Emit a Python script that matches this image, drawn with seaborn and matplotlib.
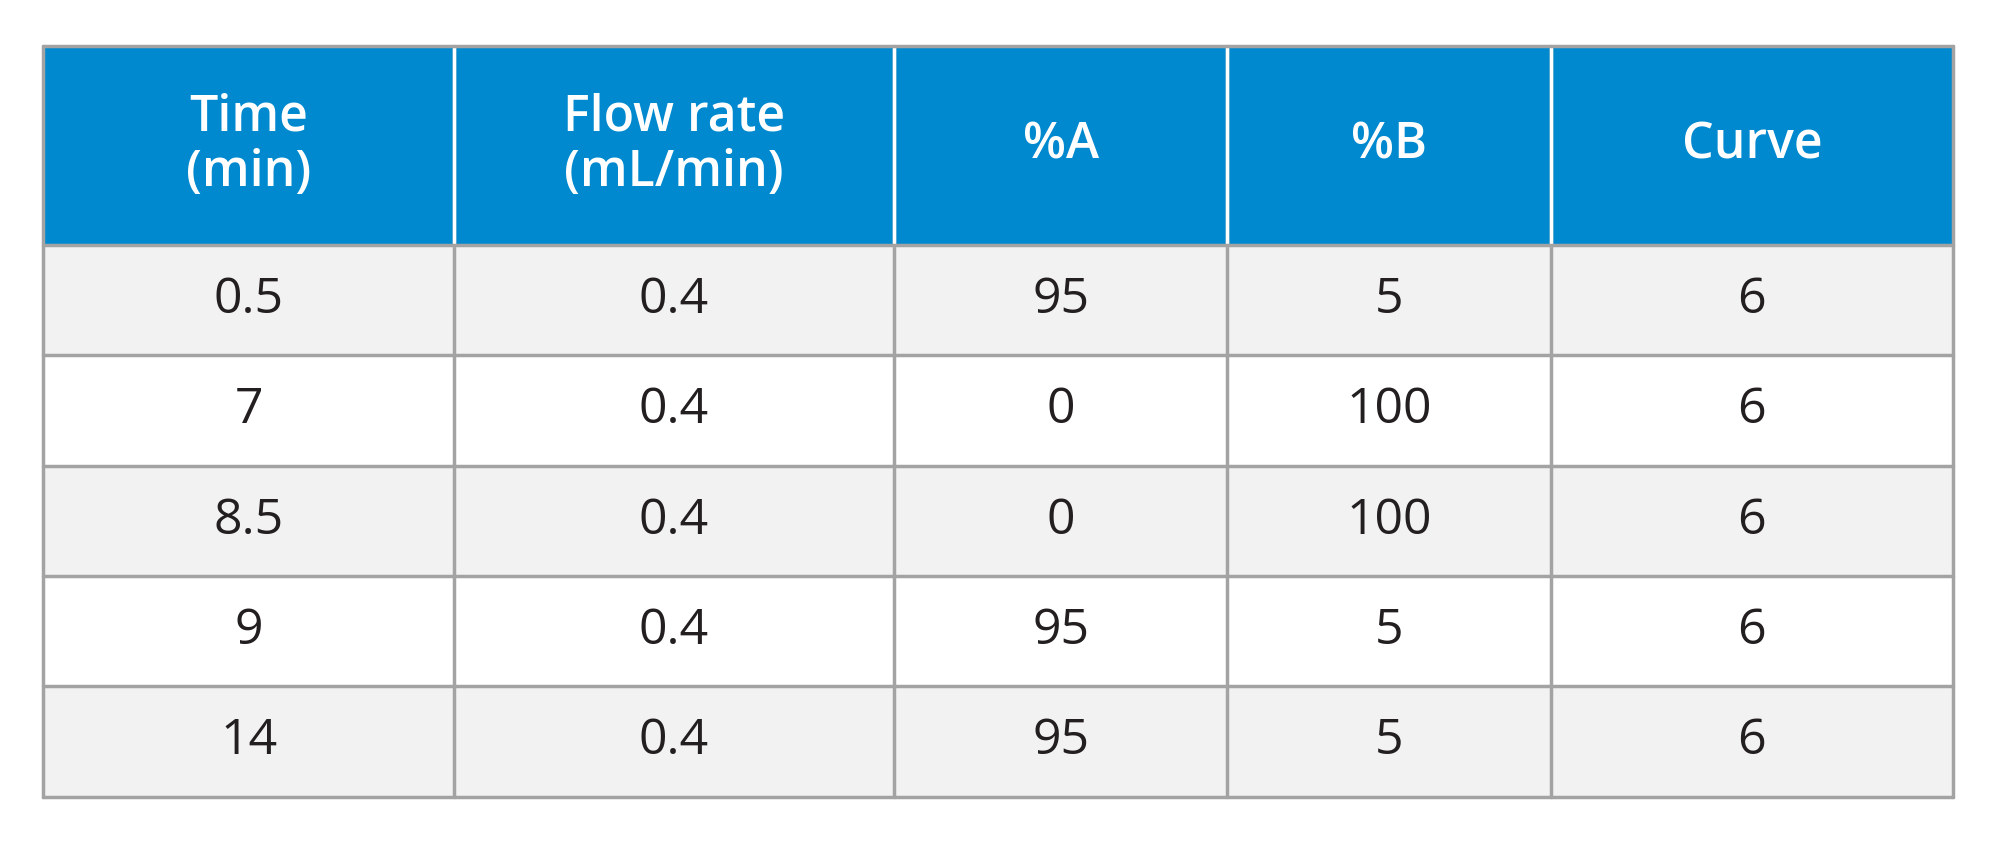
import matplotlib
matplotlib.use("Agg")
import matplotlib.pyplot as plt
from matplotlib.patches import Rectangle
import seaborn as sns

headers = ["Time\n(min)", "Flow rate\n(mL/min)", "%A", "%B", "Curve"]
time_min = ["0.5", "7", "8.5", "9", "14"]
flow_rate = ["0.4", "0.4", "0.4", "0.4", "0.4"]
pct_a = ["95", "0", "0", "95", "95"]
pct_b = ["5", "100", "100", "5", "5"]
curve = ["6", "6", "6", "6", "6"]

sns.set_theme(style="white")
fig = plt.figure(figsize=(20, 8.43), dpi=100)
ax = fig.add_axes([0, 0, 1, 1])
ax.set_xlim(0, 1568)
ax.set_ylim(657, 0)
ax.axis("off")

xb = [34, 356, 701, 962, 1216, 1531]
yb = [36, 191, 277, 363, 449, 535, 621]
blue = "#0089CF"
grey = "#F2F2F3"
border = "#A3A3A3"
font = "Open Sans"

cols = [time_min, flow_rate, pct_a, pct_b, curve]
for r in range(len(yb) - 1):
    fill = blue if r == 0 else (grey if r % 2 == 1 else "white")
    for c in range(len(xb) - 1):
        ax.add_patch(Rectangle((xb[c], yb[r]), xb[c+1]-xb[c], yb[r+1]-yb[r],
                               facecolor=fill, edgecolor="none"))
        cx = (xb[c] + xb[c+1]) / 2
        cy = (yb[r] + yb[r+1]) / 2
        if r == 0:
            ax.text(cx, cy, headers[c], ha="center", va="center", color="white",
                    fontsize=36, fontweight="semibold", family=font, linespacing=1.15)
        else:
            ax.text(cx, cy, cols[c][r-1], ha="center", va="center", color="#231F20",
                    fontsize=36, family=font)
# grid lines
for x in xb:
    ax.plot([x, x], [yb[0], yb[-1]], color=border if x in (xb[0], xb[-1]) else border, lw=2.5)
for c in range(1, len(xb) - 1):
    ax.plot([xb[c], xb[c]], [yb[0], yb[1]], color="white", lw=2.5)
for y in yb:
    ax.plot([xb[0], xb[-1]], [y, y], color=border, lw=2.5)
fig.savefig("out.png", dpi=100, facecolor="white")
